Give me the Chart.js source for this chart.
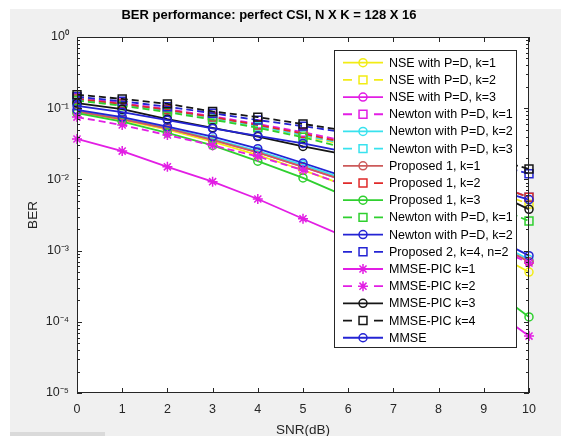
<!DOCTYPE html>
<html>
<head>
<meta charset="utf-8">
<script src="https://cdn.jsdelivr.net/npm/chart.js@4.4.1/dist/chart.umd.min.js"></script>
<style>
  html, body { margin: 0; padding: 0; background: #fff; }
  canvas { display: block; }
</style>
</head>
<body>
<canvas id="graph" width="561" height="436"></canvas>
<script>
// x axis (SNR in dB) and y tick labels
const snr = [0, 1, 2, 3, 4, 5, 6, 7, 8, 9, 10];
const yTickValues = [1e-5, 1e-4, 1e-3, 1e-2, 1e-1, 1];
const yTickLabels = ['10⁻⁵', '10⁻⁴', '10⁻³', '10⁻²', '10⁻¹', '10⁰'];

// BER values (x = 6..9 mostly hidden behind the legend)
const nseK1     = [0.088, 0.068, 0.05, 0.034, 0.022, 0.0135, 0.008, 0.0045, 0.0024, 0.0011, 0.0005];
const nseK2     = [0.13, 0.112, 0.092, 0.072, 0.055, 0.041, 0.03, 0.021, 0.013, 0.0078, 0.0045];
const nseK3     = [0.09, 0.07, 0.052, 0.036, 0.024, 0.015, 0.0092, 0.0054, 0.003, 0.0015, 0.0007];
const newtonK1  = [0.14, 0.118, 0.097, 0.077, 0.06, 0.046, 0.034, 0.024, 0.016, 0.0097, 0.0056];
const newtonK2  = [0.092, 0.072, 0.053, 0.037, 0.025, 0.016, 0.0098, 0.0058, 0.0032, 0.0016, 0.00075];
const newtonK3  = [0.135, 0.113, 0.093, 0.073, 0.056, 0.042, 0.031, 0.022, 0.015, 0.0093, 0.0056];
const prop1K1   = [0.09, 0.07, 0.052, 0.036, 0.024, 0.015, 0.0093, 0.0055, 0.003, 0.0015, 0.0007];
const prop1K2   = [0.135, 0.115, 0.095, 0.075, 0.058, 0.044, 0.032, 0.023, 0.015, 0.0095, 0.0056];
const prop1K3   = [0.085, 0.065, 0.045, 0.03, 0.018, 0.0105, 0.0056, 0.0025, 0.001, 0.00035, 0.000117];
const newtonBK1 = [0.128, 0.108, 0.088, 0.069, 0.053, 0.039, 0.027, 0.017, 0.0095, 0.0048, 0.0026];
const newtonBK2 = [0.095, 0.075, 0.055, 0.04, 0.027, 0.017, 0.0105, 0.0063, 0.0036, 0.0018, 0.00085];
const prop2     = [0.145, 0.125, 0.105, 0.085, 0.068, 0.056, 0.045, 0.035, 0.026, 0.018, 0.012];
const picK1     = [0.037, 0.025, 0.015, 0.0093, 0.0053, 0.0028, 0.0015, 0.0008, 0.0004, 0.00018, 0.000063];
const picK2     = [0.075, 0.058, 0.042, 0.03, 0.021, 0.0135, 0.008, 0.0045, 0.0025, 0.0013, 0.00067];
const picK3     = [0.118, 0.097, 0.07, 0.053, 0.04, 0.029, 0.022, 0.017, 0.012, 0.0077, 0.0038];
const picK4     = [0.155, 0.135, 0.115, 0.09, 0.075, 0.06, 0.048, 0.038, 0.029, 0.021, 0.014];
const mmse      = [0.108, 0.088, 0.068, 0.052, 0.041, 0.032, 0.024, 0.017, 0.012, 0.008, 0.0052];

const YEL = '#f2ec14', MAG = '#e21ee4', CYA = '#38e2ee', GRN = '#2fd02f', BLU = '#2424d4', BLK = '#151515';

const series = [
  { label: 'NSE with P=D, k=1',        data: nseK1,     color: YEL,       dash: false, marker: 'circle' },
  { label: 'NSE with P=D, k=2',        data: nseK2,     color: YEL,       dash: true,  marker: 'rect' },
  { label: 'NSE with P=D, k=3',        data: nseK3,     color: MAG,       dash: false, marker: 'circle' },
  { label: 'Newton with P=D, k=1',     data: newtonK1,  color: MAG,       dash: true,  marker: 'rect' },
  { label: 'Newton with P=D, k=2',     data: newtonK2,  color: CYA,       dash: false, marker: 'circle' },
  { label: 'Newton with P=D, k=3',     data: newtonK3,  color: CYA,       dash: true,  marker: 'rect' },
  { label: 'Proposed 1, k=1',          data: prop1K1,   color: '#cc5a5a', dash: false, marker: 'circle' },
  { label: 'Proposed 1, k=2',          data: prop1K2,   color: '#e02a2a', dash: true,  marker: 'rect' },
  { label: 'Proposed 1, k=3',          data: prop1K3,   color: GRN,       dash: false, marker: 'circle' },
  { label: 'Newton with P=D, k=1',     data: newtonBK1, color: GRN,       dash: true,  marker: 'rect' },
  { label: 'Newton with P=D, k=2',     data: newtonBK2, color: BLU,       dash: false, marker: 'circle' },
  { label: 'Proposed 2, k=4, n=2',     data: prop2,     color: BLU,       dash: true,  marker: 'rect' },
  { label: 'MMSE-PIC k=1',             data: picK1,     color: MAG,       dash: false, marker: 'star' },
  { label: 'MMSE-PIC k=2',             data: picK2,     color: MAG,       dash: true,  marker: 'star' },
  { label: 'MMSE-PIC k=3',             data: picK3,     color: BLK,       dash: false, marker: 'circle' },
  { label: 'MMSE-PIC k=4',             data: picK4,     color: BLK,       dash: true,  marker: 'rect' },
  { label: 'MMSE',                     data: mmse,      color: BLU,       dash: false, marker: 'circle' }
];

const FONT = 'Liberation Sans, Arial, Helvetica, sans-serif';
const DASH = [7, 4];
const markerRadius = { circle: 4, rect: 5.6, star: 5 };

// gray figure background, white axes
const background = {
  id: 'background',
  beforeDraw(chart) {
    const c = chart.ctx, a = chart.chartArea;
    c.save();
    c.fillStyle = '#ffffff';
    c.fillRect(0, 0, chart.width, chart.height);
    c.fillStyle = '#f0f0f0';
    c.fillRect(10, 9, chart.width - 10, chart.height - 9);
    c.fillStyle = '#dadada';
    c.fillRect(10, 432, 95, 4);
    c.fillStyle = '#ffffff';
    c.fillRect(a.left, a.top, a.right - a.left, a.bottom - a.top);
    c.restore();
  }
};

function drawMarker(c, style, x, y) {
  const r = markerRadius[style];
  c.beginPath();
  if (style === 'circle') {
    c.arc(x, y, r, 0, Math.PI * 2);
  } else if (style === 'rect') {
    const h = r * Math.SQRT1_2;
    c.rect(x - h, y - h, 2 * h, 2 * h);
  } else {
    const d = r * Math.SQRT1_2;
    c.moveTo(x - r, y); c.lineTo(x + r, y);
    c.moveTo(x, y - r); c.lineTo(x, y + r);
    c.moveTo(x - d, y - d); c.lineTo(x + d, y + d);
    c.moveTo(x - d, y + d); c.lineTo(x + d, y - d);
  }
  c.stroke();
}

// legend box inside the axes, then box frame with inward ticks
const overlay = {
  id: 'overlay',
  afterDatasetsDraw(chart) {
    const c = chart.ctx, a = chart.chartArea;
    const xs = chart.scales.x, ys = chart.scales.y;
    c.save();

    // legend
    const lx = 334, ly = 50, lw = 182, lh = 297, row = 17.19, first = 62.7;
    c.fillStyle = '#ffffff';
    c.fillRect(lx, ly, lw, lh);
    c.strokeStyle = '#262626';
    c.lineWidth = 1;
    c.setLineDash([]);
    c.strokeRect(lx + 0.5, ly + 0.5, lw, lh);
    c.font = '12.5px ' + FONT;
    c.textBaseline = 'middle';
    c.textAlign = 'left';
    series.forEach((s, i) => {
      const y = first + i * row;
      c.strokeStyle = s.color;
      c.lineWidth = 1.8;
      c.beginPath();
      if (s.dash) {
        c.moveTo(343, y); c.lineTo(352, y);
        c.moveTo(374, y); c.lineTo(383, y);
      } else {
        c.moveTo(343, y); c.lineTo(383, y);
      }
      c.stroke();
      c.lineWidth = 1.5;
      drawMarker(c, s.marker, 363, y);
      c.fillStyle = '#000000';
      c.fillText(s.label, 389, y + 0.5);
    });

    // axes frame
    c.strokeStyle = '#262626';
    c.lineWidth = 1;
    c.strokeRect(a.left + 0.5, a.top + 0.5, a.right - a.left - 1, a.bottom - a.top - 1);

    c.beginPath();
    snr.forEach(v => {
      const px = Math.round(xs.getPixelForValue(v)) + 0.5;
      c.moveTo(px, a.bottom); c.lineTo(px, a.bottom - 5);
      c.moveTo(px, a.top); c.lineTo(px, a.top + 5);
    });
    yTickValues.forEach((v, k) => {
      const py = Math.round(ys.getPixelForValue(v)) + 0.5;
      c.moveTo(a.left, py); c.lineTo(a.left + 5, py);
      c.moveTo(a.right, py); c.lineTo(a.right - 5, py);
      if (k < yTickValues.length - 1) {
        for (let m = 2; m <= 9; m++) {
          const pm = Math.round(ys.getPixelForValue(v * m)) + 0.5;
          c.moveTo(a.left, pm); c.lineTo(a.left + 3, pm);
          c.moveTo(a.right, pm); c.lineTo(a.right - 3, pm);
        }
      }
    });
    c.stroke();
    c.restore();
  }
};

const ctx = document.getElementById('graph');

new Chart(ctx, {
  type: 'line',
  data: {
    datasets: series.map((s, i) => ({
      label: s.label,
      data: snr.map((x, j) => ({ x: x, y: s.data[j] })),
      borderColor: s.color,
      backgroundColor: 'rgba(0,0,0,0)',
      borderWidth: 1.8,
      borderDash: s.dash ? DASH : [],
      pointStyle: s.marker,
      pointRadius: markerRadius[s.marker],
      pointBorderWidth: 1.5,
      pointBorderColor: s.color,
      pointBackgroundColor: 'rgba(0,0,0,0)',
      tension: 0,
      fill: false,
      clip: 10,
      order: -i
    }))
  },
  options: {
    responsive: false,
    animation: false,
    events: [],
    layout: { padding: { left: 9, right: 32, top: 0, bottom: 0 } },
    plugins: {
      legend: { display: false },
      tooltip: { enabled: false },
      title: {
        display: true,
        text: 'BER performance: perfect CSI, N X K = 128 X 16',
        color: '#000000',
        font: { family: FONT, size: 13, weight: 'bold' },
        padding: { top: 8, bottom: 13.4 }
      }
    },
    scales: {
      x: {
        type: 'linear',
        min: 0,
        max: 10,
        grid: { display: false, drawTicks: false },
        border: { display: false },
        ticks: {
          stepSize: 1,
          padding: 9,
          color: '#262626',
          font: { family: FONT, size: 12.5 },
          callback: v => (snr.includes(v) ? String(v) : '')
        },
        title: {
          display: true,
          text: 'SNR(dB)',
          color: '#262626',
          font: { family: FONT, size: 13.5 },
          padding: { top: 0, bottom: -2 }
        },
        afterFit: s => { s.height = 43; }
      },
      y: {
        type: 'logarithmic',
        min: 1e-5,
        max: 1,
        grid: { display: false, drawTicks: false },
        border: { display: false },
        ticks: {
          autoSkip: false,
          padding: 8,
          color: '#262626',
          font: { family: FONT, size: 12.5 },
          callback: v => {
            const k = yTickValues.findIndex(t => Math.abs(t - v) / t < 1e-6);
            return k >= 0 ? yTickLabels[k] : '';
          }
        },
        title: {
          display: true,
          text: 'BER',
          color: '#262626',
          font: { family: FONT, size: 13.5 },
          padding: { top: 16, bottom: 0 }
        },
        afterFit: s => { s.width = 68; }
      }
    }
  },
  plugins: [background, overlay]
});
</script>
</body>
</html>
